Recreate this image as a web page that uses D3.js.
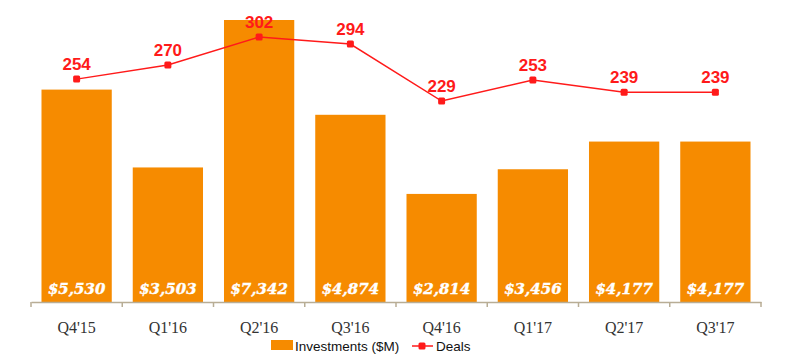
<!DOCTYPE html>
<html>
<head>
<meta charset="utf-8">
<script src="https://cdnjs.cloudflare.com/ajax/libs/d3/7.8.5/d3.min.js"></script>
<style>
  body { margin: 0; background: #fff; }
</style>
</head>
<body>
<svg width="800" height="364"></svg>
<script>
(function(d3) {
    "use strict";

var quarters = ["Q4'15", "Q1'16", "Q2'16", "Q3'16", "Q4'16", "Q1'17", "Q2'17", "Q3'17"],
    investments = [5530, 3503, 7342, 4874, 2814, 3456, 4177, 4177],
    deals = [254, 270, 302, 294, 229, 253, 239, 239];

var svg = d3.select("svg"),
    orange = "#f68b00",
    red = "#ff1a1a",

    x = d3.scaleBand().domain(quarters).range([31, 761]).paddingInner(0.23).paddingOuter(0.115),
    yBar = d3.scaleLinear().domain([0, 7342]).range([302, 20]),
    yLine = d3.scaleLinear().domain([0, 302]).range([302, 37]);

// bars
svg.append("g")
    .selectAll("rect")
    .data(quarters)
    .join("rect")
    .attr("x", function(d) { return x(d); })
    .attr("y", function(d, i) { return yBar(investments[i]); })
    .attr("width", x.bandwidth())
    .attr("height", function(d, i) { return yBar(0) - yBar(investments[i]); })
    .attr("fill", orange);

svg.append("g")
    .selectAll("text")
    .data(quarters)
    .join("text")
    .attr("x", function(d) { return x(d) + x.bandwidth() / 2; })
    .attr("y", 294)
    .attr("text-anchor", "middle")
    .attr("fill", "#fff")
    .attr("stroke", "#fff")
    .attr("stroke-width", 0.4)
    .style("font", "italic bold 15px 'DejaVu Serif', serif")
    .text(function(d, i) { return "$" + d3.format(",")(investments[i]); });

// axis
var axis = svg.append("g")
    .attr("transform", "translate(0,302)")
    .call(d3.axisBottom(x).tickSizeInner(0).tickSizeOuter(0).tickPadding(20));

axis.select(".domain").attr("stroke", "#b8ad95").attr("stroke-width", 1.5);
axis.selectAll("text")
    .attr("fill", "#333")
    .style("font", "16px 'Liberation Serif', serif");

axis.selectAll(".sep")
    .data(d3.range(quarters.length + 1))
    .join("line")
    .attr("class", "sep")
    .attr("x1", function(i) { return x.range()[0] + i * x.step(); })
    .attr("x2", function(i) { return x.range()[0] + i * x.step(); })
    .attr("y1", 0)
    .attr("y2", 5)
    .attr("stroke", "#b8ad95")
    .attr("stroke-width", 1.5);

// deals line
var cx = function(d, i) { return x(quarters[i]) + x.bandwidth() / 2; };

svg.append("path")
    .datum(deals)
    .attr("fill", "none")
    .attr("stroke", red)
    .attr("stroke-width", 1.5)
    .attr("d", d3.line().x(cx).y(function(d) { return yLine(d); }));

svg.append("g")
    .selectAll("rect")
    .data(deals)
    .join("rect")
    .attr("x", function(d, i) { return cx(d, i) - 3.5; })
    .attr("y", function(d) { return yLine(d) - 3.5; })
    .attr("width", 7)
    .attr("height", 7)
    .attr("rx", 1.5)
    .attr("fill", red);

svg.append("g")
    .selectAll("text")
    .data(deals)
    .join("text")
    .attr("x", cx)
    .attr("y", function(d) { return yLine(d) - 9; })
    .attr("text-anchor", "middle")
    .attr("fill", red)
    .style("font", "bold 17px 'Liberation Sans', Arial, sans-serif")
    .text(function(d) { return d; });

// legend
var legend = svg.append("g")
    .style("font", "13.5px 'Liberation Sans', Arial, sans-serif")
    .attr("fill", "#111");

legend.append("rect")
    .attr("x", 271).attr("y", 340)
    .attr("width", 22).attr("height", 10)
    .attr("fill", orange);

legend.append("text")
    .attr("x", 295).attr("y", 351)
    .text("Investments ($M)");

legend.append("line")
    .attr("x1", 412).attr("x2", 433)
    .attr("y1", 346).attr("y2", 346)
    .attr("stroke", red).attr("stroke-width", 1.5);

legend.append("rect")
    .attr("x", 418.5).attr("y", 342.5)
    .attr("width", 7).attr("height", 7)
    .attr("rx", 1.5)
    .attr("fill", red);

legend.append("text")
    .attr("x", 436).attr("y", 351)
    .text("Deals");

}(d3));
</script>
</body>
</html>
